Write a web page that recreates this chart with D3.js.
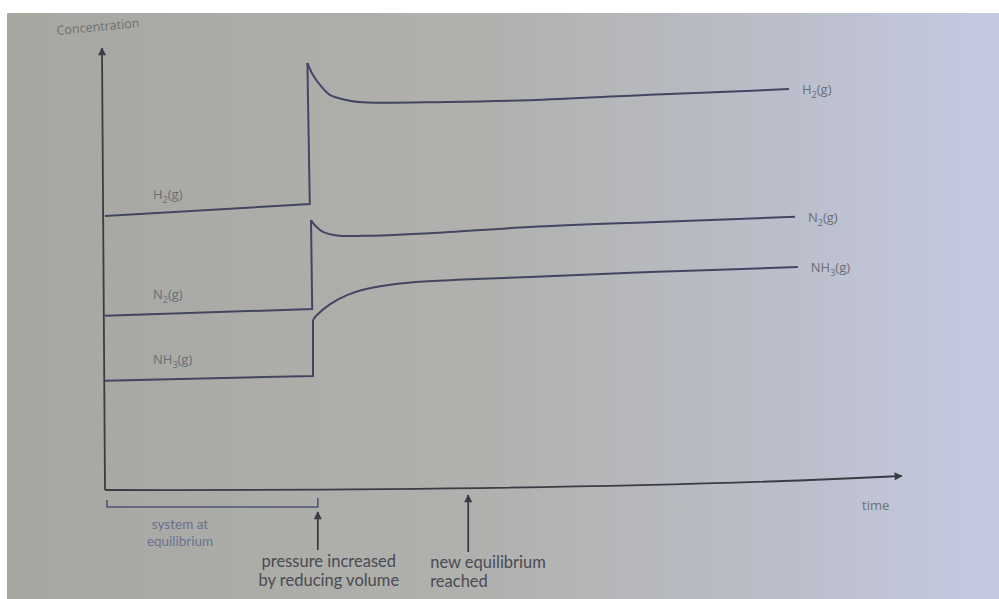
<!DOCTYPE html>
<html>
<head>
<meta charset="utf-8">
<script src="https://cdn.jsdelivr.net/npm/d3@7"></script>
<style>
  body { margin: 0; background: #fff; }
  svg { display: block; }
  text { font-family: "Open Sans", sans-serif; }
  .note { font-family: Lato, sans-serif; }
</style>
</head>
<body>
<div id="chart"></div>
<script>
// concentration vs time, arbitrary units
var h2Time = [0, 25.6, 25.3, 26.0, 26.9, 28.1, 30.25, 32.25, 42.75, 53.1, 68.1, 85.5];
var h2Conc = [62.0, 64.7, 96.6, 93.9, 91.6, 89.4, 88.2, 87.7, 87.8, 88.2, 89.4, 90.7];

var n2Time = [0, 25.9, 25.75, 26.0, 27.25, 29.0, 32.25, 40.6, 53.1, 68.1, 86.25];
var n2Conc = [39.4, 40.95, 61.1, 60.4, 58.4, 57.6, 57.5, 58.1, 59.5, 60.6, 61.8];

var nh3Time = [0, 26.0, 26.0, 26.5, 28.1, 30.25, 32.25, 34.4, 38.5, 44.75, 53.1, 68.1, 86.6];
var nh3Conc = [24.7, 25.8, 38.5, 39.6, 42.0, 44.1, 45.3, 46.1, 47.0, 47.6, 48.2, 49.3, 50.45];

var labelBase = ["H", "N", "NH"];
var labelSub = ["2", "2", "3"];

// events on the time axis
var bracketTimes = [0, 26.6];
var bracketText = ["system at", "equilibrium"];
var eventTimes = [26.6, 45.4];
var eventText = [["pressure increased", "by reducing volume"], ["new equilibrium", "reached"]];

var width = 999,
    height = 599;

var svg = d3.select("#chart")
    .append("svg")
    .attr("width", width)
    .attr("height", height);

// photographed page: grey on the left, bluish on the right
var defs = svg.append("defs");
var grad = defs.append("linearGradient")
    .attr("id", "page")
    .attr("x1", 0).attr("x2", 1).attr("y1", 0).attr("y2", 0);
grad.append("stop").attr("offset", "0%").attr("stop-color", "#a6a7a1");
grad.append("stop").attr("offset", "50%").attr("stop-color", "#b1b2af");
grad.append("stop").attr("offset", "78%").attr("stop-color", "#bbbec9");
grad.append("stop").attr("offset", "100%").attr("stop-color", "#c5cae3");

svg.append("rect")
    .attr("x", 7).attr("y", 13)
    .attr("width", width - 7).attr("height", height - 13)
    .attr("fill", "url(#page)");

defs.append("marker")
    .attr("id", "head")
    .attr("viewBox", "0 0 10 10")
    .attr("refX", 9).attr("refY", 5)
    .attr("markerWidth", 10).attr("markerHeight", 8)
    .attr("markerUnits", "userSpaceOnUse")
    .attr("orient", "auto")
    .append("path")
    .attr("d", "M0,0L10,5L0,10Z")
    .attr("fill", "#3c3c44");

var x = d3.scaleLinear().domain([0, 100]).range([105, 905]);
var y = d3.scaleLinear().domain([0, 100]).range([490, 48]);

// axes (no ticks, just arrows)
svg.append("line")
    .attr("x1", x(0)).attr("y1", y(0))
    .attr("x2", x(0) - 3).attr("y2", y(100))
    .attr("stroke", "#3c3c44")
    .attr("stroke-width", 1.8)
    .attr("marker-end", "url(#head)");

// the page curls a little on the right, so the time axis bends up
var tip = [x(99.6), y(0) - 14];
svg.append("path")
    .attr("d", "M" + x(0) + "," + y(0) + "Q" + x(62) + "," + (y(0) + 1) + "," + tip[0] + "," + tip[1])
    .attr("fill", "none")
    .attr("stroke", "#3c3c44")
    .attr("stroke-width", 1.8)
    .attr("marker-end", "url(#head)");

svg.append("text")
    .attr("transform", "translate(57,35) rotate(-5.5)")
    .attr("font-size", 12.5)
    .attr("fill", "#6e6f72")
    .text("Concentration");

svg.append("text")
    .attr("x", 862).attr("y", 510)
    .attr("font-size", 13)
    .attr("fill", "#6e6f72")
    .text("time");

var series = [
    { t: h2Time, c: h2Conc },
    { t: n2Time, c: n2Conc },
    { t: nh3Time, c: nh3Conc }
];

var linear = d3.line()
    .x(function (d) { return x(d[0]); })
    .y(function (d) { return y(d[1]); });

var smooth = d3.line()
    .x(function (d) { return x(d[0]); })
    .y(function (d) { return y(d[1]); })
    .curve(d3.curveCatmullRom.alpha(0.5));

var g = svg.append("g");

series.forEach(function (s, i) {
    var pts = s.t.map(function (t, j) { return [t, s.c[j]]; });

    // flat part + sudden jump
    g.append("path")
        .attr("d", linear(pts.slice(0, 3)))
        .attr("fill", "none")
        .attr("stroke", "#434662")
        .attr("stroke-width", 2)
        .attr("stroke-linejoin", "miter");

    // settling to new equilibrium
    g.append("path")
        .attr("d", smooth(pts.slice(2)))
        .attr("fill", "none")
        .attr("stroke", "#434662")
        .attr("stroke-width", 2);

    var left = g.append("text")
        .attr("x", x(0) + 48)
        .attr("y", y(pts[0][1]) - 17)
        .attr("font-size", 13)
        .attr("fill", "#6a6d78");
    addLabel(left, i);

    var last = pts[pts.length - 1];
    var right = g.append("text")
        .attr("x", x(last[0]) + 13)
        .attr("y", y(last[1]) + 5)
        .attr("font-size", 13)
        .attr("fill", "#6a6d78");
    addLabel(right, i);
});

function addLabel(sel, i) {
    sel.append("tspan").text(labelBase[i]);
    sel.append("tspan").attr("dy", 4).attr("font-size", 9).text(labelSub[i]);
    sel.append("tspan").attr("dy", -4).text("(g)");
}

// bracket under the first stretch
var bx0 = x(bracketTimes[0]) + 2,
    bx1 = x(bracketTimes[1]);
svg.append("path")
    .attr("d", "M" + bx0 + "," + (y(0) + 10) + "V" + (y(0) + 17) + "H" + bx1 + "V" + (y(0) + 8))
    .attr("fill", "none")
    .attr("stroke", "#4d5475")
    .attr("stroke-width", 1.6);

svg.append("text")
    .attr("class", "note")
    .attr("text-anchor", "middle")
    .attr("font-size", 13.5)
    .attr("fill", "#69718f")
    .selectAll("tspan")
    .data(bracketText)
    .enter()
    .append("tspan")
    .attr("x", 180)
    .attr("y", function (d, i) { return 529 + i * 17; })
    .text(function (d) { return d; });

// event arrows
var arrowTop = [y(0) + 22, y(0) + 5];
var arrowBottom = [y(0) + 60, y(0) + 62];
eventTimes.forEach(function (t, i) {
    svg.append("line")
        .attr("x1", x(t)).attr("y1", arrowBottom[i])
        .attr("x2", x(t)).attr("y2", arrowTop[i])
        .attr("stroke", "#3c3c44")
        .attr("stroke-width", 1.8)
        .attr("marker-end", "url(#head)");
});

svg.append("text")
    .attr("class", "note")
    .attr("text-anchor", "middle")
    .attr("font-size", 16.5)
    .attr("fill", "#4a4a52")
    .selectAll("tspan")
    .data(eventText[0])
    .enter()
    .append("tspan")
    .attr("x", x(eventTimes[0]) + 11)
    .attr("y", function (d, i) { return 567 + i * 18.5; })
    .text(function (d) { return d; });

svg.append("text")
    .attr("class", "note")
    .attr("font-size", 16.5)
    .attr("fill", "#4a4a52")
    .selectAll("tspan")
    .data(eventText[1])
    .enter()
    .append("tspan")
    .attr("x", x(eventTimes[1]) - 38)
    .attr("y", function (d, i) { return 568 + i * 18.5; })
    .text(function (d) { return d; });
</script>
</body>
</html>
